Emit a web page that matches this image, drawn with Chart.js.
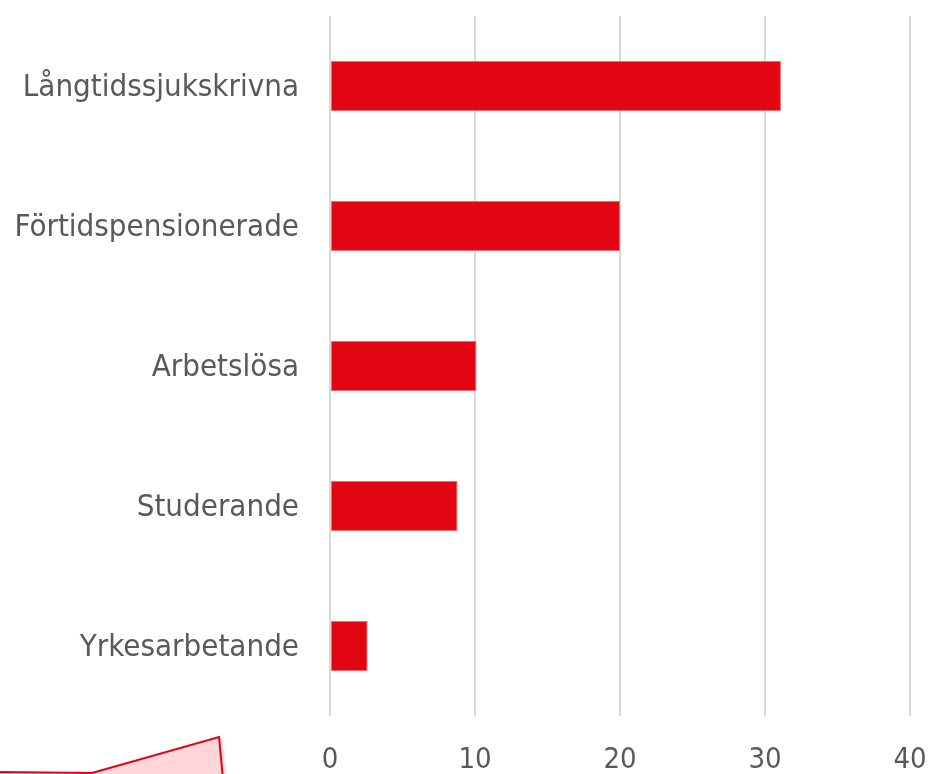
<!DOCTYPE html>
<html>
<head>
<meta charset="utf-8">
<script src="https://cdn.jsdelivr.net/npm/chart.js@4.4.1/dist/chart.umd.min.js"></script>
<style>
  html, body { margin: 0; padding: 0; background: #fff; }
  #wrap { position: relative; width: 931px; height: 774px; overflow: hidden; }
  canvas { display: block; }
  svg { position: absolute; left: 0; top: 0; pointer-events: none; }
</style>
</head>
<body>
<div id="wrap">
  <canvas id="c" width="931" height="774"></canvas>
  <svg width="931" height="774">
    <defs>
      <filter id="sh" x="-10%" y="-10%" width="130%" height="130%">
        <feDropShadow dx="2" dy="2" stdDeviation="1.5" flood-color="#000" flood-opacity="0.2"/>
      </filter>
    </defs>
    <polygon points="-5,772 92,773 219,737 224,790 -5,790" fill="#FFD6D9" stroke="#E30613" stroke-width="2" filter="url(#sh)"/>
  </svg>
</div>
<script>
const categories = ["Långtidssjukskrivna", "Förtidspensionerade", "Arbetslösa", "Studerande", "Yrkesarbetande"];
const values = [31.1, 20.0, 10.1, 8.8, 2.6];
const xTicks = [0, 10, 20, 30, 40];

const FONT = "'DejaVu Sans Condensed', 'DejaVu Sans', sans-serif";

new Chart(document.getElementById('c'), {
  type: 'bar',
  data: {
    labels: categories,
    datasets: [{
      data: values,
      backgroundColor: '#E20613',
      borderColor: '#EC6A72',
      borderWidth: 1,
      borderSkipped: false,
      barPercentage: 0.357,
      categoryPercentage: 1.0
    }]
  },
  options: {
    indexAxis: 'y',
    responsive: false,
    animation: false,
    devicePixelRatio: 1,
    layout: { padding: { top: 16, right: 21, left: 0, bottom: 0 } },
    plugins: { legend: { display: false }, tooltip: { enabled: false } },
    scales: {
      x: {
        min: 0, max: 40,
        afterBuildTicks: (s) => { s.ticks = xTicks.map(v => ({ value: v })); },
        afterFit: (s) => { s.height = 58; s.paddingLeft = 0; s.paddingRight = 0; },
        grid: { color: '#D9D9D9', lineWidth: 2, drawTicks: false },
        border: { display: false },
        ticks: { color: '#595959', font: { family: FONT, size: 29 }, padding: 27 }
      },
      y: {
        afterFit: (s) => { s.width = 330; s.paddingTop = 0; s.paddingBottom = 0; },
        grid: { display: false, drawTicks: false },
        border: { display: false },
        ticks: { color: '#595959', font: { family: FONT, size: 31 }, padding: 31, labelOffset: 2 }
      }
    }
  }
});
</script>
</body>
</html>
